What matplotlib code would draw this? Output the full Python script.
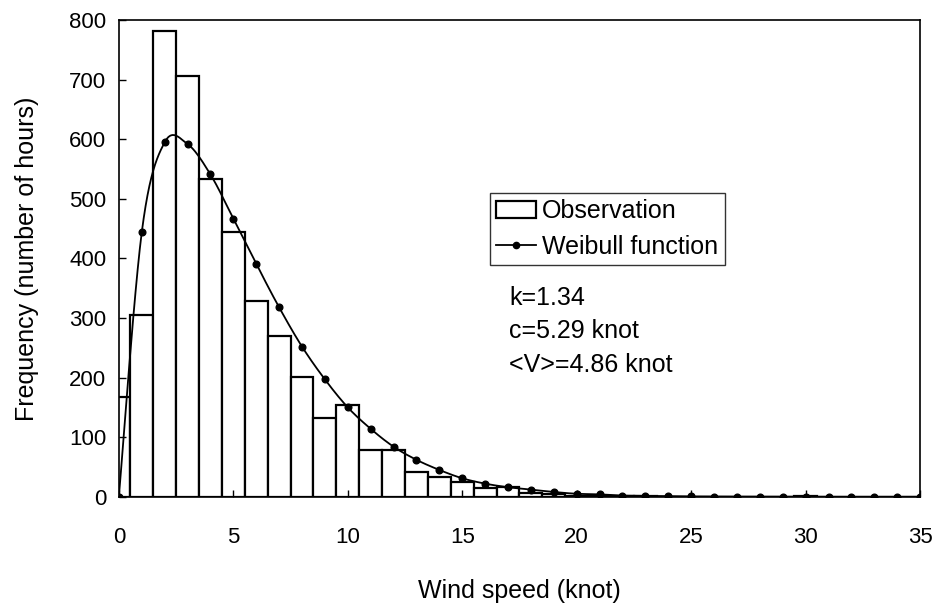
import matplotlib
matplotlib.use("Agg")
import matplotlib.pyplot as plt
import numpy as np
from matplotlib.patches import Patch
from matplotlib.lines import Line2D

plt.rcParams["font.family"] = ["Liberation Sans", "DejaVu Sans"]

# observed hours per 1-knot bin (bin centres 0..35)
speed_bins = list(range(0, 36))
observed = [168, 305, 781, 706, 533, 444, 328, 270, 201, 133, 154, 78, 78, 42, 33, 24,
            14, 16, 6, 4, 2, 1, 1, 1, 0, 0, 0, 0, 0, 0, 2, 0, 0, 0, 0, 0]

# fitted Weibull frequencies at each integer speed
weibull_x = list(range(0, 36))
weibull_y = [0, 444, 595, 592, 541, 467, 391, 318, 252, 197, 150, 114, 84, 62, 45, 31,
             22, 16, 12, 8, 5, 4, 2, 1.5, 1, 0.6, 0.4, 0.3, 0.2, 0.1, 0.1, 0, 0, 0, 0, 0]

params = ["k=1.34", "c=5.29 knot", "<V>=4.86 knot"]


def smooth(x, y, n=12):
    # Catmull-Rom style smoothing for drawing the line (like a spreadsheet smooth line)
    x = np.asarray(x, float)
    y = np.asarray(y, float)
    px = np.concatenate([[x[0]], x, [x[-1]]])
    py = np.concatenate([[y[0]], y, [y[-1]]])
    xs, ys = [], []
    t = np.linspace(0, 1, n, endpoint=False)
    for i in range(1, len(px) - 2):
        for arr, out in ((px, xs), (py, ys)):
            p0, p1, p2, p3 = arr[i - 1], arr[i], arr[i + 1], arr[i + 2]
            out.extend(0.5 * ((2 * p1) + (-p0 + p2) * t
                              + (2 * p0 - 5 * p1 + 4 * p2 - p3) * t ** 2
                              + (-p0 + 3 * p1 - 3 * p2 + p3) * t ** 3))
    xs.append(x[-1])
    ys.append(y[-1])
    return np.array(xs), np.clip(ys, 0, None)


fig = plt.figure(figsize=(9.36, 6.11), dpi=100)
ax = fig.add_axes([0.127, 0.187, 0.856, 0.780])

ax.bar(speed_bins, observed, width=1.0, color="white", edgecolor="black", linewidth=1.6)
sx, sy = smooth(weibull_x, weibull_y)
ax.plot(sx, sy, color="black", linewidth=1.3)
ax.plot(weibull_x, weibull_y, "o", color="black", markersize=4.8)

ax.set_xlim(0, 35)
ax.set_ylim(0, 800)
ax.set_xticks(range(0, 36, 5))
ax.set_yticks(range(0, 801, 100))
ax.tick_params(direction="in", length=5, width=1, labelsize=16)
ax.tick_params(axis="y", pad=9)
ax.tick_params(axis="x", pad=22)
for s in ax.spines.values():
    s.set_linewidth(1.2)

ax.set_xlabel("Wind speed (knot)", fontsize=18, labelpad=22)
ax.set_ylabel("Frequency (number of hours)", fontsize=18, labelpad=22)

handles = [Patch(facecolor="white", edgecolor="black", linewidth=1.6),
           Line2D([0], [0], color="black", linewidth=1.3, marker="o", markersize=4.5)]
leg = ax.legend(handles, ["Observation", "Weibull function"], loc="upper left",
                bbox_to_anchor=(0.463, 0.637), fontsize=18, frameon=True, fancybox=False,
                edgecolor="black", handlelength=1.6, handletextpad=0.25,
                borderpad=0.25, labelspacing=0.45, borderaxespad=0)
leg.get_frame().set_linewidth(1.0)

for i, s in enumerate(params):
    ax.text(0.487, 0.417 - i * 0.07, s, transform=ax.transAxes, fontsize=18,
            ha="left", va="center")

fig.savefig("out.png", dpi=100, facecolor="white")
